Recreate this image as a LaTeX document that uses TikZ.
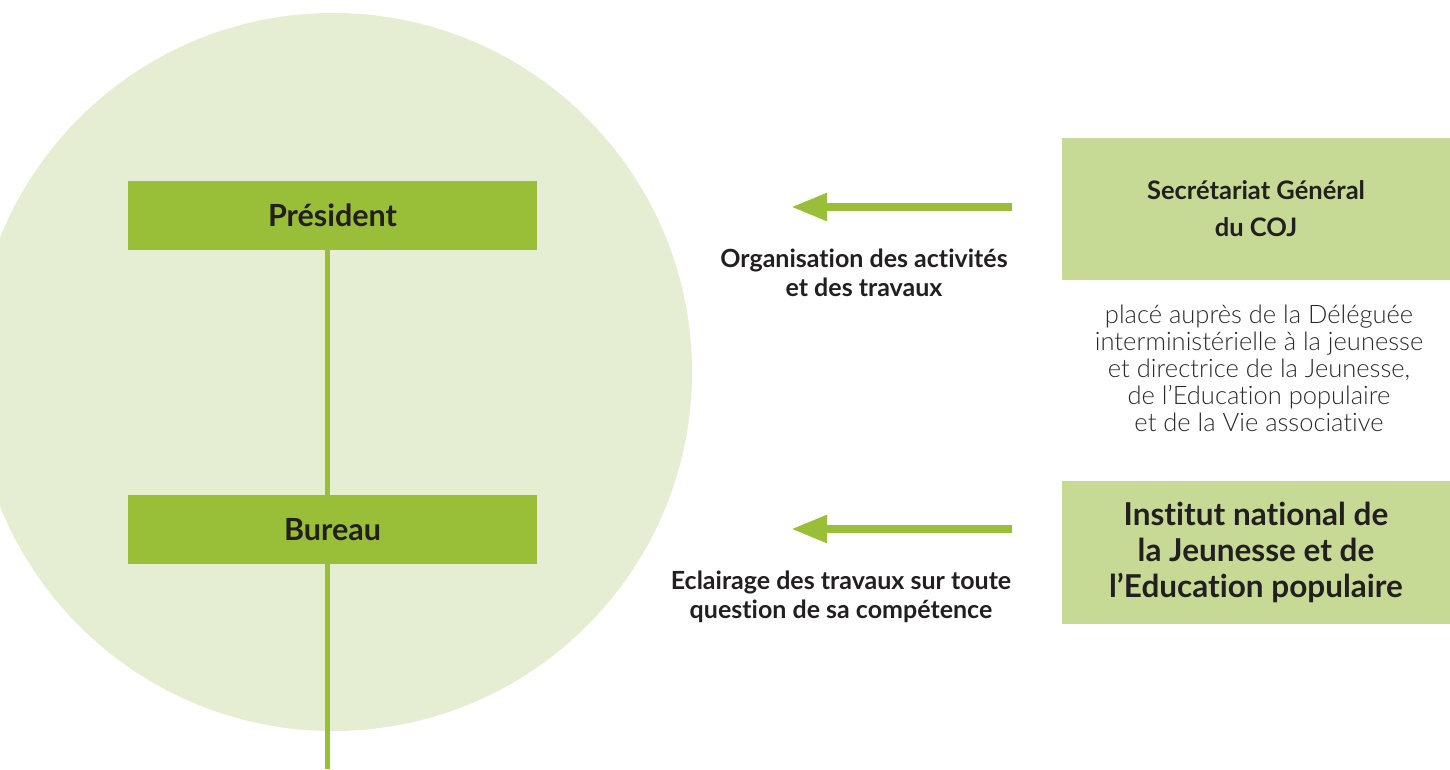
\documentclass[tikz,border=0pt]{standalone}
\usepackage{fontspec}
\setmainfont{Lato}[Ligatures={NoCommon,TeX}]
\newfontfamily\lightfont{Lato Light}[Ligatures={NoCommon,TeX}]
\usetikzlibrary{arrows.meta}
\definecolor{circlegreen}{HTML}{E5EED2}
\definecolor{darkgreen}{HTML}{99BE38}
\definecolor{boxgreen}{HTML}{C6DA96}
\definecolor{textdark}{HTML}{231F20}
\definecolor{textgray}{HTML}{2B2B2B}
\tikzset{
  mainbox/.style={fill=darkgreen, inner sep=0pt, minimum width=409pt, minimum height=69pt, text=textdark, font=\bfseries\fontsize{30.5}{34}\selectfont},
  sidebox/.style={fill=boxgreen, inner sep=0pt, minimum width=388pt, text=textdark, align=center},
  link/.style={draw=darkgreen, line width=5pt},
  flow/.style={draw=darkgreen, line width=8pt, -{Triangle[length=36pt,width=26pt]}},
  lbl/.style={text=textdark, align=center, inner sep=0pt, font=\bfseries\fontsize{25}{29}\selectfont},
}
\begin{document}
\begin{tikzpicture}[x=1pt,y=-1pt]
\useasboundingbox (0,0) rectangle (1450,769);
\fill[circlegreen] (333,372) circle (359pt);
\node[mainbox] (pres) at (332.5,215.5) {Président};
\node[mainbox] (bur) at (332.5,529.5) {Bureau};
\coordinate (bottom) at (327,769);
\draw[link] ([xshift=-5.5pt]pres.south) -- ([xshift=-5.5pt]bur.north);
\draw[link] ([xshift=-5.5pt]bur.south) -- (bottom);
\node[sidebox, minimum height=142pt, font=\bfseries\fontsize{25.5}{37}\selectfont] (sg) at (1256,209) {Secrétariat Général\\du COJ};
\node[text=textgray, align=center, inner sep=0pt, font=\lightfont\fontsize{25.5}{27}\selectfont] (desc) at (1259,368.5) {placé auprès de la Déléguée\\interministérielle à la jeunesse\\et directrice de la Jeunesse,\\de l’Education populaire\\et de la Vie associative};
\node[sidebox, minimum height=143pt, font=\bfseries\fontsize{31.5}{36}\selectfont] (injep) at (1256,552.5) {Institut national de\\la Jeunesse et de\\l’Education populaire};
\coordinate (a1s) at (1012,207);
\coordinate (a1e) at (791,207);
\coordinate (a2s) at (1012,529);
\coordinate (a2e) at (791,529);
\draw[flow] (a1s) -- (a1e);
\draw[flow] (a2s) -- (a2e);
\node[lbl] (l1) at (864,272.5) {Organisation des activités\\et des travaux};
\node[lbl] (l2) at (841,596.5) {Eclairage des travaux sur toute\\question de sa compétence};
\end{tikzpicture}
\end{document}
